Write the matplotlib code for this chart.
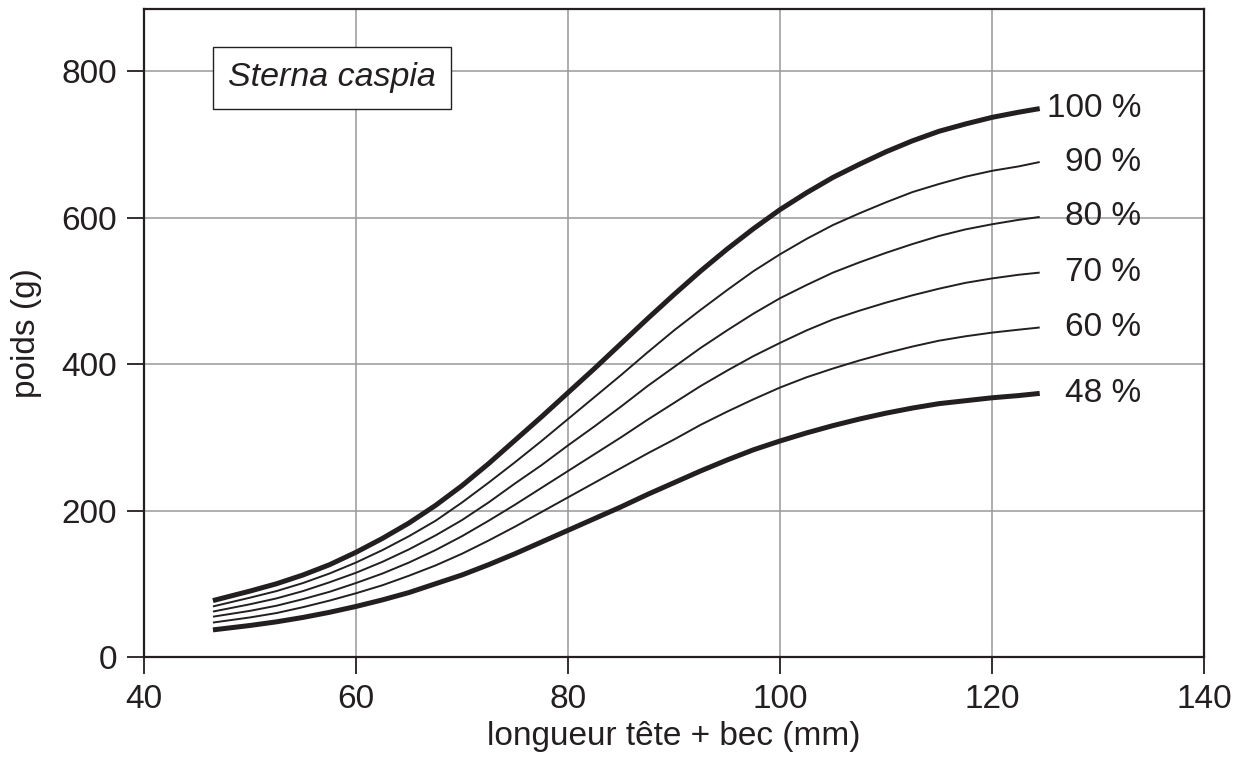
import matplotlib
matplotlib.use("Agg")
import matplotlib.pyplot as plt

plt.rcParams['font.family'] = ['Liberation Sans', 'DejaVu Sans']

# longueur tete + bec (mm)
lengths = [46.5, 50, 52.5, 55, 57.5, 60, 62.5, 65, 67.5, 70, 72.5, 75, 77.5, 80,
           82.5, 85, 87.5, 90, 92.5, 95, 97.5, 100, 102.5, 105, 107.5, 110,
           112.5, 115, 117.5, 120, 122.5, 124.5]

# poids (g)
w100 = [77, 90, 100, 112, 126, 143, 162, 183, 207, 234, 264, 296, 328, 361,
        394, 428, 462, 495, 527, 557, 585, 611, 634, 655, 673, 690,
        705, 718, 728, 737, 744, 749]
w90 = [69, 81, 90, 101, 114, 129, 146, 165, 186, 211, 238, 266, 295, 325,
       355, 385, 416, 446, 474, 501, 527, 550, 571, 590, 606, 621,
       635, 646, 656, 664, 670, 676]
w80 = [62, 72, 80, 90, 102, 115, 130, 147, 166, 187, 211, 237, 262, 289,
       315, 342, 370, 396, 422, 446, 469, 490, 508, 525, 539, 552,
       564, 575, 584, 591, 597, 601]
w70 = [55, 63, 70, 79, 89, 101, 114, 129, 146, 165, 186, 208, 231, 254,
       277, 300, 324, 347, 370, 391, 411, 429, 446, 461, 473, 484,
       494, 503, 511, 517, 522, 525]
w60 = [47, 54, 60, 68, 77, 87, 98, 111, 125, 141, 159, 178, 198, 218,
       238, 258, 278, 297, 317, 335, 352, 368, 382, 394, 405, 415,
       424, 432, 438, 443, 447, 450]
w48 = [37, 43, 48, 54, 61, 69, 78, 88, 100, 112, 126, 141, 157, 173,
       189, 205, 222, 238, 254, 269, 283, 295, 306, 316, 325, 333,
       340, 346, 350, 354, 357, 360]

series = [("100 %", w100, True), ("90 %", w90, False), ("80 %", w80, False),
          ("70 %", w70, False), ("60 %", w60, False), ("48 %", w48, True)]

ink = '#231f20'

fig = plt.figure(figsize=(12.46, 7.70), dpi=100)
ax = fig.add_axes([0.1156, 0.1468, 0.8507, 0.8415])

for label, w, thick in series:
    ax.plot(lengths, w, color=ink, lw=3.6 if thick else 1.4,
            solid_capstyle='butt', solid_joinstyle='round', zorder=3)
    ax.text(134.1, w[-1], label, ha='right', va='center', fontsize=24, color=ink)

ax.set_xlim(40, 140)
ax.set_ylim(0, 885)
ax.set_xticks([40, 60, 80, 100, 120, 140])
ax.set_yticks([0, 200, 400, 600, 800])
ax.grid(True, color='#999999', lw=1.1, zorder=0)
ax.set_axisbelow(True)

for s in ax.spines.values():
    s.set_linewidth(1.6)
    s.set_color(ink)

ax.tick_params(direction='out', length=12.5, width=1.3, color=ink,
               labelsize=24, labelcolor=ink, pad=7)

ax.set_xlabel('longueur tête + bec (mm)', fontsize=24, color=ink, labelpad=4)
ax.set_ylabel('poids (g)', fontsize=24, color=ink, labelpad=14)

ax.text(57.75, 791, 'Sterna caspia', style='italic', fontsize=24.5, color=ink,
        ha='center', va='center', zorder=4,
        bbox=dict(boxstyle='square,pad=0.45', fc='white', ec=ink, lw=1.0))

fig.savefig('out.png', dpi=100)
